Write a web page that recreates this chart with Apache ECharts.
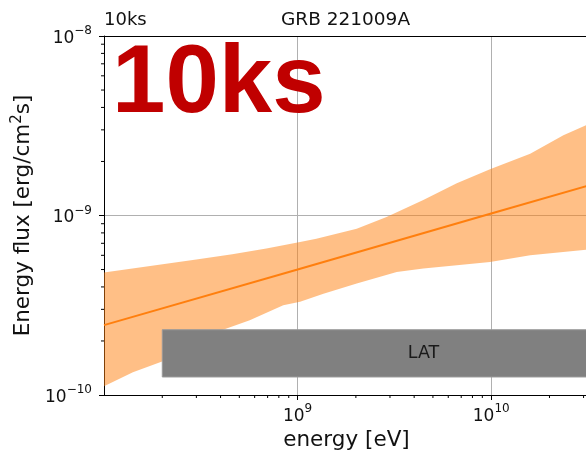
<!DOCTYPE html>
<html>
<head>
<meta charset="utf-8">
<script src="https://cdn.jsdelivr.net/npm/echarts@6/dist/echarts.min.js"></script>
<style>
  html, body { margin: 0; padding: 0; background: #ffffff; }
  #chart { width: 586px; height: 452px; }
</style>
</head>
<body>
<div id="chart"></div>
<script>
// Axis extents
const energyRange = [1e8, 3.2e10];
const fluxRange = [1e-10, 1e-8];

// Best-fit power-law model (energy flux)
const modelEnergy = [1e8, 1e9, 1e10, 3.2e10];
const modelFlux = [2.45e-10, 5.0e-10, 1.025e-9, 1.47e-9];

// Upper edge of the uncertainty band
const upperEnergy = [1e8, 3.0e8, 4.6e8, 6.9e8, 1.03e9, 1.25e9, 2.02e9, 2.88e9, 4.46e9, 6.64e9, 9.86e9, 1.59e10, 2.36e10, 3.2e10];
const upperFlux = [4.81e-10, 5.68e-10, 6.08e-10, 6.55e-10, 7.12e-10, 7.43e-10, 8.45e-10, 9.82e-10, 1.22e-9, 1.51e-9, 1.81e-9, 2.21e-9, 2.80e-9, 3.24e-9];

// Lower edge of the uncertainty band
const lowerEnergy = [1e8, 1.41e8, 1.98e8, 2.8e8, 4.12e8, 5.66e8, 8.43e8, 1.03e9, 1.36e9, 2.02e9, 3.25e9, 4.46e9, 6.64e9, 9.86e9, 1.59e10, 3.2e10];
const lowerFlux = [1.12e-10, 1.34e-10, 1.53e-10, 1.85e-10, 2.31e-10, 2.61e-10, 3.16e-10, 3.31e-10, 3.67e-10, 4.18e-10, 4.85e-10, 5.06e-10, 5.28e-10, 5.51e-10, 6.00e-10, 6.47e-10];

// Instrument energy range marker
const latEnergy = [2e8, 1e11];
const latFlux = [1.26e-10, 2.31e-10];
const latLabel = 'LAT';

// Minor tick multipliers within each decade
const minorMultipliers = [2, 3, 4, 5, 6, 7, 8, 9];
const xDecades = [1e8, 1e9, 1e10];
const yDecades = [1e-10, 1e-9];

const FONT = 'DejaVu Sans';
const INK = '#111111';

function powLabel(v) {
  const e = Math.round(Math.log10(v));
  const s = e < 0 ? '\u2212' + (-e) : String(e);
  return '{b|10}{s|' + s + '}';
}
const labelRich = {
  b: { fontFamily: FONT, fontSize: 17, color: INK, lineHeight: 22, verticalAlign: 'bottom' },
  s: { fontFamily: FONT, fontSize: 12, color: INK, lineHeight: 22, verticalAlign: 'top' }
};

const xMinor = [];
xDecades.forEach(d => minorMultipliers.forEach(m => {
  const v = d * m;
  if (v > energyRange[0] && v < energyRange[1]) xMinor.push([v, fluxRange[0]]);
}));
const yMinor = [];
yDecades.forEach(d => minorMultipliers.forEach(m => {
  const v = d * m;
  if (v > fluxRange[0] && v < fluxRange[1]) yMinor.push([energyRange[0], v]);
}));

const chart = echarts.init(document.getElementById('chart'), null, { renderer: 'canvas' });

const option = {
  animation: false,
  backgroundColor: '#ffffff',
  textStyle: { fontFamily: FONT },
  title: [
    { text: '10ks', left: 104, top: 11, padding: 0,
      textStyle: { fontFamily: FONT, fontSize: 18, fontWeight: 'normal', color: INK } },
    { text: 'GRB 221009A', left: 281, top: 11, padding: 0,
      textStyle: { fontFamily: FONT, fontSize: 18.5, fontWeight: 'normal', color: INK } }
  ],
  graphic: [
    { type: 'text', left: 112, top: 38, z: 100,
      style: { text: '10ks', fill: '#c00000', font: 'bold 96px "Liberation Sans", Arial, sans-serif' } }
  ],
  grid: { left: 104, right: -3, top: 36, bottom: 57, containLabel: false, outerBoundsMode: 'none', show: false },
  xAxis: [
    {
      type: 'log', logBase: 10, min: energyRange[0], max: energyRange[1],
      name: 'energy [eV]', nameLocation: 'middle', nameGap: 32,
      nameTextStyle: { fontFamily: FONT, fontSize: 21.5, color: INK },
      axisLine: { show: true, onZero: false, lineStyle: { color: '#000', width: 1 } },
      axisTick: { show: true, inside: false, length: 5, lineStyle: { color: '#000', width: 1 } },
      axisLabel: { showMinLabel: false, showMaxLabel: false, margin: 8, formatter: powLabel, rich: labelRich },
      splitLine: { show: true, lineStyle: { color: '#b0b0b0', width: 1 } }
    },
    {
      type: 'log', logBase: 10, min: energyRange[0], max: energyRange[1], position: 'top',
      axisLine: { show: true, onZero: false, lineStyle: { color: '#000', width: 1 } },
      axisTick: { show: false }, axisLabel: { show: false }, splitLine: { show: false }
    }
  ],
  yAxis: {
    type: 'log', logBase: 10, min: fluxRange[0], max: fluxRange[1],
    name: 'Energy flux [erg/cm{sup|2}s]', nameLocation: 'middle', nameGap: 68, nameRotate: 90,
    nameTextStyle: {
      fontFamily: FONT, fontSize: 21.5, color: INK,
      rich: {
        sup: { fontFamily: FONT, fontSize: 15, color: INK, verticalAlign: 'top', lineHeight: 26 }
      }
    },
    axisLine: { show: true, onZero: false, lineStyle: { color: '#000', width: 1 } },
    axisTick: { show: true, inside: false, length: 5, lineStyle: { color: '#000', width: 1 } },
    axisLabel: { margin: 12, formatter: powLabel, rich: labelRich },
    splitLine: { show: true, lineStyle: { color: '#b0b0b0', width: 1 } }
  },
  series: [
    {
      // uncertainty band as a closed polygon
      type: 'custom', name: 'band', z: 2, clip: true,
      data: upperEnergy.map((e, i) => [e, upperFlux[i]]),
      renderItem: function (params, api) {
        if (params.dataIndex !== 0) return null;
        const pts = [];
        for (let i = 0; i < upperEnergy.length; i++) pts.push(api.coord([upperEnergy[i], upperFlux[i]]));
        for (let i = lowerEnergy.length - 1; i >= 0; i--) pts.push(api.coord([lowerEnergy[i], lowerFlux[i]]));
        return { type: 'polygon', shape: { points: pts },
                 style: { fill: 'rgba(255,127,14,0.5)', stroke: 'none' } };
      }
    },
    {
      type: 'line', name: 'model', z: 3, showSymbol: false, symbol: 'none',
      data: modelEnergy.map((e, i) => [e, modelFlux[i]]),
      lineStyle: { color: '#ff7f0e', width: 2 }
    },
    {
      // instrument range box
      type: 'custom', name: 'LAT', z: 4, clip: true,
      data: [[latEnergy[0], latFlux[0], latEnergy[1], latFlux[1]]],
      renderItem: function (params, api) {
        const p0 = api.coord([api.value(0), api.value(3)]);
        const p1 = api.coord([api.value(2), api.value(1)]);
        const rect = echarts.graphic.clipRectByRect(
          { x: p0[0], y: p0[1], width: p1[0] - p0[0], height: p1[1] - p0[1] },
          { x: params.coordSys.x, y: params.coordSys.y, width: params.coordSys.width, height: params.coordSys.height });
        const c = api.coord([Math.sqrt(api.value(0) * api.value(2)), Math.sqrt(api.value(1) * api.value(3))]);
        return { type: 'group', children: [
          { type: 'rect', shape: rect, style: { fill: '#808080', stroke: '#9a9a9a', lineWidth: 1 } },
          { type: 'text', x: c[0], y: c[1],
            style: { text: latLabel, fontFamily: FONT, fontSize: 17.5, fill: '#1a1a1a', align: 'center', verticalAlign: 'middle' } }
        ] };
      }
    },
    {
      type: 'custom', name: 'xMinorTicks', z: 10, clip: false, silent: true,
      data: xMinor,
      renderItem: function (params, api) {
        const p = api.coord([api.value(0), api.value(1)]);
        return { type: 'line', shape: { x1: p[0], y1: p[1], x2: p[0], y2: p[1] + 3 },
                 style: { stroke: '#000', lineWidth: 1 } };
      }
    },
    {
      type: 'custom', name: 'yMinorTicks', z: 10, clip: false, silent: true,
      data: yMinor,
      renderItem: function (params, api) {
        const p = api.coord([api.value(0), api.value(1)]);
        return { type: 'line', shape: { x1: p[0], y1: p[1], x2: p[0] - 3, y2: p[1] },
                 style: { stroke: '#000', lineWidth: 1 } };
      }
    }
  ]
};
chart.setOption(option);
</script>
</body>
</html>
